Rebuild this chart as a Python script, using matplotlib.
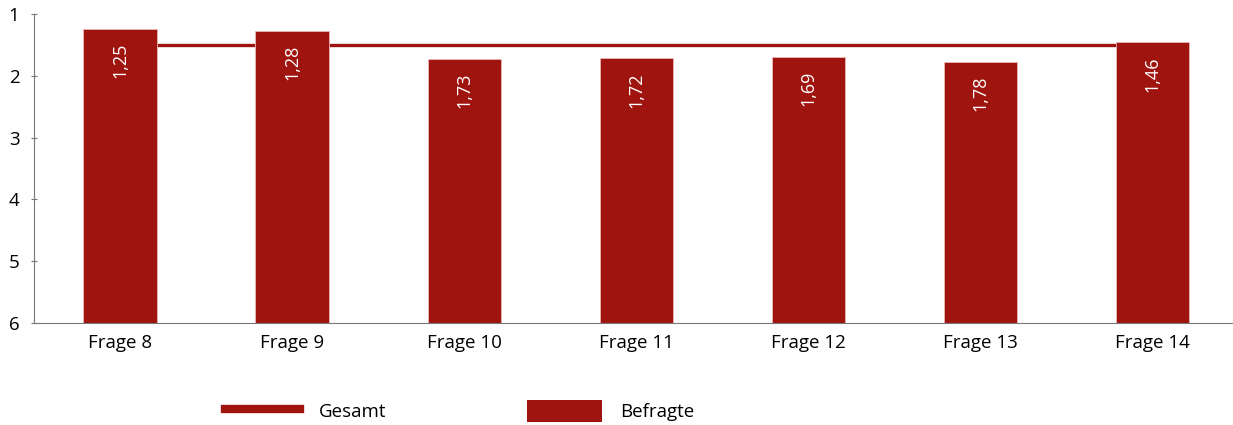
import matplotlib
matplotlib.use("Agg")
import matplotlib.pyplot as plt
from matplotlib.patches import Patch
from matplotlib.lines import Line2D

categories = ["Frage 8", "Frage 9", "Frage 10", "Frage 11", "Frage 12", "Frage 13", "Frage 14"]
befragte = [1.25, 1.28, 1.73, 1.72, 1.69, 1.78, 1.46]
gesamt = [1.5, 1.5, 1.5, 1.5, 1.5, 1.5, 1.5]
value_labels = ["1,25", "1,28", "1,73", "1,72", "1,69", "1,78", "1,46"]
yticks = [1, 2, 3, 4, 5, 6]

RED = "#A0140F"
plt.rcParams['font.family'] = ['Open Sans', 'DejaVu Sans']

fig = plt.figure(figsize=(12.33, 4.25), dpi=100)
ax = fig.add_axes([34/1233, (425-323)/425, (1233-34)/1233, (323-14)/425])

x = list(range(len(categories)))
ax.plot(x, gesamt, color=RED, lw=2.4, zorder=1)
heights = [6 - v for v in befragte]
ax.bar(x, heights, bottom=befragte, width=0.425, color=RED, edgecolor="#e9b8b6", linewidth=0.6, zorder=2)
for xi, v, lab in zip(x, befragte, value_labels):
    ax.text(xi, v + 0.22, lab, rotation=90, color="white", ha="center", va="top", fontsize=13, zorder=3)

ax.set_ylim(6, 1)
ax.set_xlim(-0.5, 6.47)
ax.set_yticks(yticks)
ax.set_yticklabels([str(t) for t in yticks], fontsize=13.5)
ax.set_xticks(x)
ax.set_xticklabels(categories, fontsize=13.5)
ax.tick_params(axis='x', length=0, pad=8)
ax.tick_params(axis='y', length=5, direction='inout', color="#777777", pad=8)
for s in ['top', 'right']:
    ax.spines[s].set_visible(False)
ax.spines['left'].set_color("#777777")
ax.spines['bottom'].set_color("#777777")

handles = [Line2D([0], [0], color=RED, lw=6), Patch(facecolor=RED)]
fig.legend(handles, ["Gesamt", "Befragte"], loc='center', bbox_to_anchor=(0.373, 0.033),
           ncol=2, frameon=False, fontsize=13.5, handlelength=4.0, handleheight=1.4,
           handletextpad=1.0, columnspacing=7.5)

fig.savefig("out.png", dpi=100)
